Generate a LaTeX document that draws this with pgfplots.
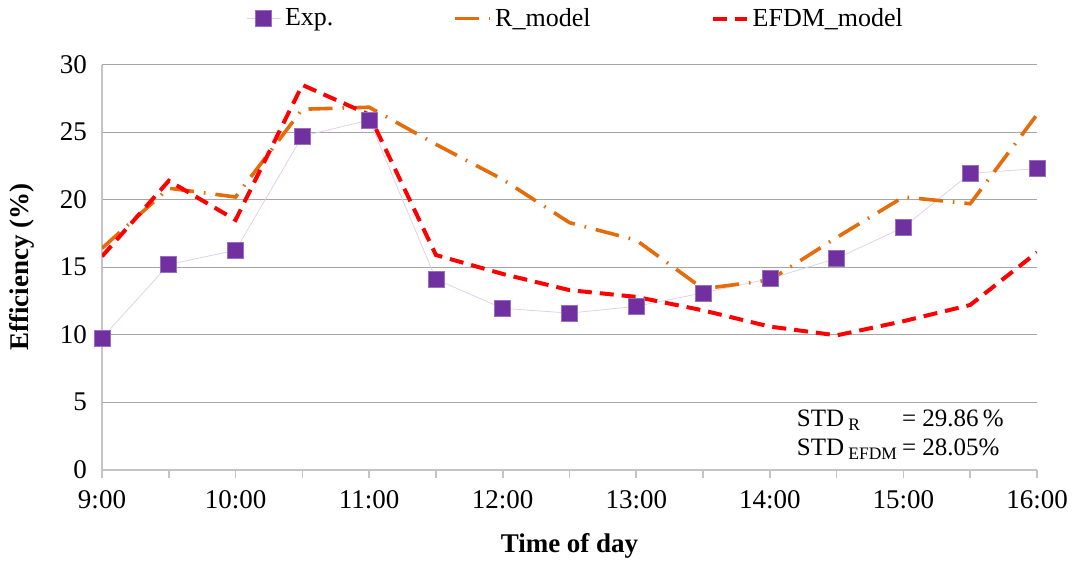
\documentclass[border=0pt]{standalone}
\usepackage{pgfplots}
\pgfplotsset{compat=1.18}
\usepackage{fontspec}
\setmainfont{Liberation Serif}
\definecolor{expc}{HTML}{7030A0}
\definecolor{rc}{HTML}{E46C0A}
\definecolor{ec}{HTML}{FF0000}
\definecolor{gridc}{HTML}{A6A6A6}
\definecolor{axc}{HTML}{C4C4C4}
\begin{document}
\begin{tikzpicture}
\begin{axis}[
 scale only axis, width=467.5pt, height=202.5pt,
 xmin=9, xmax=16, ymin=0, ymax=30,
 axis x line*=bottom, axis y line*=left,
 x axis line style={draw=axc, line width=1pt},
 y axis line style={draw=axc, line width=0.8pt},
 xtick={9,...,16},
 xticklabels={9:00,10:00,11:00,12:00,13:00,14:00,15:00,16:00},
 minor xtick={9.5,10.5,...,15.5},
 tick align=outside,
 major tick length=4pt, minor tick length=4pt,
 x tick style={draw=axc, line width=0.8pt},
 ytick={0,5,...,30},
 y tick style={draw=none},
 ymajorgrids, grid style={draw=gridc, line width=0.6pt},
 tick label style={font=\fontsize{13.5}{16}\selectfont},
 /pgf/number format/assume math mode=true,
 xticklabel style={yshift=-3pt},
 xlabel={Time of day},
 ylabel={Efficiency (\%)},
 xlabel style={font=\fontsize{13.5}{16}\selectfont\bfseries, at={(axis description cs:0.5,-0.188)}, anchor=center},
 ylabel style={font=\fontsize{13.5}{16}\selectfont\bfseries, at={(axis description cs:-0.0856,0.5)}, anchor=center},
 legend columns=-1,
 legend style={draw=none, fill=none, at={(0.5075,1.114)}, anchor=center,
   font=\fontsize{13}{15}\selectfont,
   /tikz/every even column/.append style={column sep=58pt}},
]
\addplot[color=expc!22, line width=0.4pt, mark=square*, mark size=4pt,
  mark options={fill=expc, draw=expc!70!white, line width=0.3pt}] coordinates {
 (9,9.75) (9.5,15.2) (10,16.25) (10.5,24.7) (11,25.9) (11.5,14.1) (12,11.95)
 (12.5,11.6) (13,12.1) (13.5,13.1) (14,14.15) (14.5,15.65) (15,17.95) (15.5,21.95) (16,22.3)};
\addlegendentry{Exp.}
\addplot[color=rc, line width=1.8pt, dash pattern=on 12pt off 5pt on 0.8pt off 5pt] coordinates {
 (9,16.4) (9.5,20.85) (10,20.2) (10.5,26.7) (11,26.85) (11.5,24.1) (12,21.5)
 (12.5,18.3) (13,17.0) (13.5,13.4) (14,14.05) (14.5,17.2) (15,20.2) (15.5,19.7) (16,26.3)};
\addlegendentry{R\_model}
\addplot[color=ec, line width=2pt, dash pattern=on 7pt off 4pt] coordinates {
 (9,15.8) (9.5,21.4) (10,18.5) (10.5,28.5) (11,26.3) (11.5,15.9) (12,14.5)
 (12.5,13.3) (13,12.8) (13.5,11.8) (14,10.6) (14.5,9.95) (15,11.0) (15.5,12.2) (16,16.1)};
\addlegendentry{EFDM\_model}
\node[anchor=base west, inner sep=0pt, font=\fontsize{12.5}{14.5}\selectfont] at (axis cs:14.2,3.2)
 {\begin{tabular}[t]{@{}l@{\,}l@{}}STD\,\textsubscript{R} & = 29.86\,\% \\ STD\,\textsubscript{EFDM} & = 28.05\% \end{tabular}};
\end{axis}
\path ([shift={(-51pt,-45pt)}]current axis.south west) rectangle ([shift={(20pt,31pt)}]current axis.north east);
\end{tikzpicture}
\end{document}
